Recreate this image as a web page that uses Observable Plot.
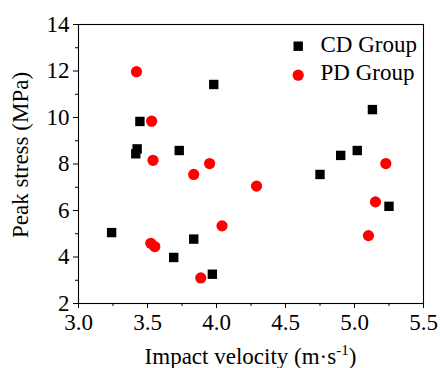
<!DOCTYPE html>
<html>
<head>
<meta charset="utf-8">
<script src="https://cdn.jsdelivr.net/npm/d3@7"></script>
<script src="https://cdn.jsdelivr.net/npm/@observablehq/plot@0.6"></script>
<style>
  html, body { margin: 0; padding: 0; background: #fff; }
  #chart { width: 440px; height: 368px; overflow: hidden; }
  #chart svg, #chart svg text, #chart svg g { font-family: "Liberation Serif", serif !important; }
</style>
</head>
<body>
<div id="chart"></div>
<script>
// CD Group (squares)
const cdVelocity = [3.24, 3.445, 3.425, 3.415, 3.73, 3.98, 3.69, 3.835, 3.97, 4.75, 4.90, 5.02, 5.13, 5.25];
const cdStress   = [5.05, 9.83, 8.65, 8.44, 8.58, 11.42, 3.98, 4.77, 3.26, 7.55, 8.37, 8.58, 10.34, 6.18];
// PD Group (circles)
const pdVelocity = [3.42, 3.53, 3.54, 3.835, 3.95, 4.29, 4.04, 3.524, 3.553, 3.886, 5.227, 5.152, 5.101];
const pdStress   = [11.97, 9.84, 8.16, 7.55, 8.02, 7.05, 5.34, 4.59, 4.45, 3.10, 8.02, 6.37, 4.92];

const xTicks = [3.0, 3.5, 4.0, 4.5, 5.0, 5.5];
const xMinor = [3.25, 3.75, 4.25, 4.75, 5.25];
const yTicks = [2, 4, 6, 8, 10, 12, 14];
const yMinor = [3, 5, 7, 9, 11, 13];
const seriesNames = ["CD Group", "PD Group"];
const xTitle = "Impact velocity (m·s";
const xTitleSup = "-1";
const xTitleEnd = ")";
const yTitle = "Peak stress (MPa)";

const cd = cdVelocity.map((v, i) => ({v, s: cdStress[i]}));
const pd = pdVelocity.map((v, i) => ({v, s: pdStress[i]}));

const chart = Plot.plot({
  width: 440,
  height: 368,
  marginLeft: 78,
  marginRight: 17,
  marginTop: 24,
  marginBottom: 65,
  style: {fontSize: "23px", color: "#000", background: "#fff"},
  x: {domain: [3.0, 5.5]},
  y: {domain: [2, 14]},
  marks: [
    Plot.axisX({ticks: xTicks, tickSize: 5, tickPadding: 5, tickFormat: d => d.toFixed(1), label: null, fontSize: 23}),
    Plot.axisX({ticks: xMinor, tickSize: 3, tickFormat: () => "", label: null}),
    Plot.axisY({ticks: yTicks, tickSize: 5, tickPadding: 4, tickFormat: d => String(d), label: null, fontSize: 23}),
    Plot.axisY({ticks: yMinor, tickSize: 3, tickFormat: () => "", label: null}),
    Plot.frame({stroke: "#000", strokeWidth: 1.1}),
    Plot.dot(cd, {x: "v", y: "s", symbol: "square", r: 5.3, fill: "#000", stroke: "none"}),
    Plot.dot(pd, {x: "v", y: "s", symbol: "circle", r: 5.6, fill: "#ff0000", stroke: "none"}),
    // legend
    Plot.dot([seriesNames[0]], {frameAnchor: "top-left", dx: 219.7, dy: 21.7, symbol: "square", r: 5.3, fill: "#000", stroke: "none"}),
    Plot.dot([seriesNames[1]], {frameAnchor: "top-left", dx: 219.7, dy: 50.7, symbol: "circle", r: 5.6, fill: "#ff0000", stroke: "none"}),
    Plot.text([seriesNames[0]], {text: d => d, frameAnchor: "top-left", dx: 242, dy: 20.3, textAnchor: "start", lineAnchor: "middle", fontSize: 23, fill: "#000"}),
    Plot.text([seriesNames[1]], {text: d => d, frameAnchor: "top-left", dx: 242, dy: 48.6, textAnchor: "start", lineAnchor: "middle", fontSize: 23, fill: "#000"})
  ]
});

document.getElementById("chart").appendChild(chart);

const svg = d3.select(chart);
// x-axis title with superscript
const xt = svg.append("text")
  .attr("x", 250.5)
  .attr("y", 364)
  .attr("text-anchor", "middle")
  .attr("font-size", 23)
  .attr("fill", "#000");
xt.append("tspan").text(xTitle);
xt.append("tspan").attr("dy", -9).attr("font-size", 15).text(xTitleSup);
xt.append("tspan").attr("dy", 9).text(xTitleEnd);

// y-axis title
svg.append("text")
  .attr("transform", "translate(28,155) rotate(-90)")
  .attr("text-anchor", "middle")
  .attr("font-size", 23)
  .attr("fill", "#000")
  .text(yTitle);

svg.selectAll("text").attr("font-family", "Liberation Serif").style("font-family", "'Liberation Serif', serif");
</script>
</body>
</html>
